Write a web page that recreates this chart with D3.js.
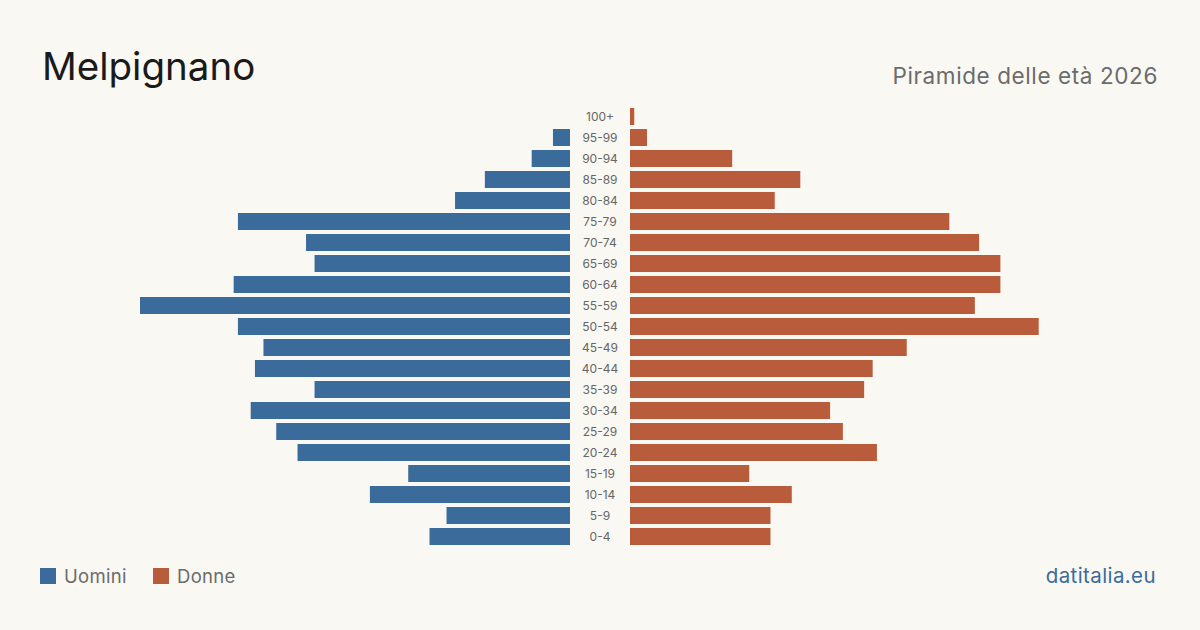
<!DOCTYPE html>
<html lang="it">
<head>
<meta charset="utf-8">
<title>Melpignano - Piramide delle età 2026</title>
<script src="https://cdn.jsdelivr.net/npm/d3@7"></script>
<style>
  html, body { margin: 0; padding: 0; background: #f9f8f3; }
  svg { display: block; font-family: Inter, "Noto Sans", sans-serif; }
</style>
</head>
<body>
<div id="chart"></div>
<script>
// classi d'età, dall'alto verso il basso
var ages = ["100+", "95-99", "90-94", "85-89", "80-84", "75-79", "70-74", "65-69", "60-64",
            "55-59", "50-54", "45-49", "40-44", "35-39", "30-34", "25-29", "20-24",
            "15-19", "10-14", "5-9", "0-4"];
var men   = [0, 4, 9, 20, 27, 78, 62, 60, 79, 101, 78, 72, 74, 60, 75, 69, 64, 38, 47, 29, 33];
var women = [1, 4, 24, 40, 34, 75, 82, 87, 87, 81, 96, 65, 57, 55, 47, 50, 58, 28, 38, 33, 33];

var w = 1200, h = 630;
var blue = "#3b6b9b", red = "#b95c3c";

var svg = d3.select("#chart").append("svg")
    .attr("width", w).attr("height", h);

svg.append("rect").attr("width", w).attr("height", h).attr("fill", "#f9f8f3");

var maxVal = d3.max(men.concat(women));
var y = d3.scaleBand().domain(ages).range([106, 547])
    .paddingInner(4 / 21).paddingOuter(2 / 21);
var xm = d3.scaleLinear().domain([0, maxVal]).range([570, 140]);
var xf = d3.scaleLinear().domain([0, maxVal]).range([630, 1060]);

// uomini
svg.append("g").selectAll("rect")
   .data(men)
   .enter().append("rect")
   .attr("x", function(d) { return xm(d); })
   .attr("y", function(d, i) { return y(ages[i]); })
   .attr("width", function(d) { return xm(0) - xm(d); })
   .attr("height", y.bandwidth())
   .attr("fill", blue);

// donne
svg.append("g").selectAll("rect")
   .data(women)
   .enter().append("rect")
   .attr("x", xf(0))
   .attr("y", function(d, i) { return y(ages[i]); })
   .attr("width", function(d) { return xf(d) - xf(0); })
   .attr("height", y.bandwidth())
   .attr("fill", red);

// etichette centrali
svg.append("g").selectAll("text")
   .data(ages)
   .enter().append("text")
   .attr("x", 600)
   .attr("y", function(d) { return y(d) + y.bandwidth() / 2; })
   .attr("dy", "0.35em")
   .attr("text-anchor", "middle")
   .attr("font-size", "12px")
   .attr("fill", "#666")
   .text(function(d) { return d; });

// titolo e sottotitolo
svg.append("text").attr("x", 42).attr("y", 80)
   .attr("font-size", "38.5px").attr("fill", "#1a1a1a")
   .text("Melpignano");
svg.append("text").attr("x", 1158).attr("y", 84)
   .attr("text-anchor", "end")
   .attr("font-size", "22.5px").attr("letter-spacing", "0.6px").attr("fill", "#6b6b6b")
   .text("Piramide delle età 2026");

// legenda
var legend = [{label: "Uomini", color: blue, x: 40}, {label: "Donne", color: red, x: 153}];
var lg = svg.append("g").selectAll("g").data(legend).enter().append("g");
lg.append("rect").attr("x", function(d) { return d.x; }).attr("y", 568)
  .attr("width", 16).attr("height", 16).attr("fill", function(d) { return d.color; });
lg.append("text").attr("x", function(d) { return d.x + 24; }).attr("y", 583)
  .attr("font-size", "18.5px").attr("letter-spacing", "0.3px").attr("fill", "#6b6b6b")
  .text(function(d) { return d.label; });

svg.append("text").attr("x", 1156).attr("y", 583)
   .attr("text-anchor", "end")
   .attr("font-size", "20.5px").attr("letter-spacing", "0.4px").attr("fill", blue)
   .text("datitalia.eu");
</script>
</body>
</html>
